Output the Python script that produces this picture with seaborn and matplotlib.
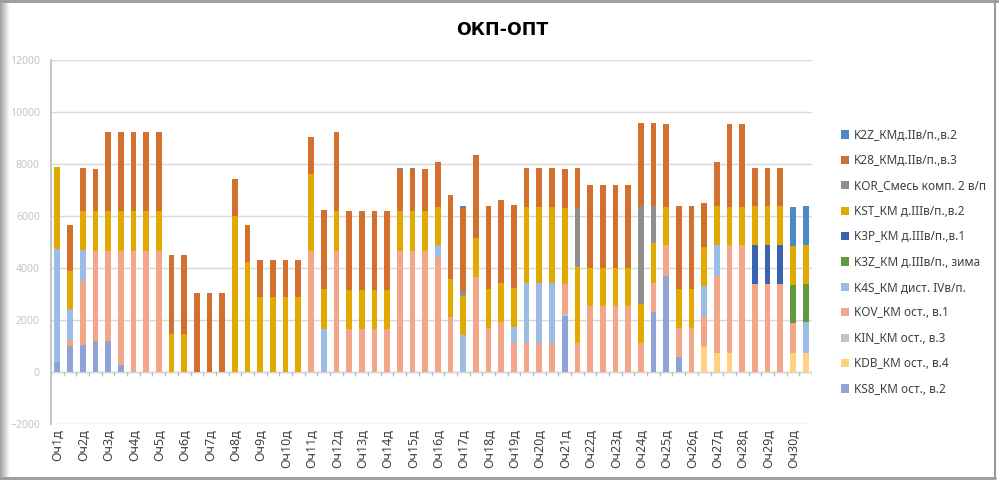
import numpy as np
import pandas as pd
import matplotlib
matplotlib.use("Agg")
import matplotlib.pyplot as plt
from matplotlib.patches import Patch
from matplotlib.lines import Line2D
import seaborn as sns

# --- data: one list per series, 60 bars (segment heights) ---
n_bars = 60
day_labels = [f"Оч{d}д" for d in range(1, 31)]

ks8 = [400, 1000, 1040, 1200, 1200, 270, 0, 0, 0, 0,
       0, 0, 0, 0, 0, 0, 0, 0, 0, 0,
       0, 0, 0, 0, 0, 0, 0, 0, 0, 0,
       0, 0, 0, 0, 0, 0, 0, 0, 0, 0,
       2150, 0, 0, 0, 0, 0, 0, 2310, 3690, 560,
       0, 0, 0, 0, 0, 0, 0, 0, 0, 0]
kdb = [0] * 51 + [960, 730, 730, 0, 0, 0, 0, 730, 730]
kin = [0] * 40 + [80] + [0] * 19
kov = [0, 230, 2470, 3470, 3470, 4400, 4670, 4670, 4670, 0,
       0, 0, 0, 0, 0, 0, 0, 0, 0, 0,
       4670, 0, 4670, 1670, 1670, 1670, 1670, 4670, 4670, 4670,
       4420, 2120, 0, 3670, 1690, 1940, 1100, 1100, 1100, 1100,
       1170, 1100, 2530, 2530, 2530, 2530, 1100, 1130, 1180, 1130,
       1690, 1180, 2970, 4140, 4870, 3370, 3370, 3370, 1140, 0]
k4s = [4320, 1180, 1180, 0, 0, 0, 0, 0, 0, 0,
       0, 0, 0, 0, 0, 0, 0, 0, 0, 0,
       0, 1670, 0, 0, 0, 0, 0, 0, 0, 0,
       450, 0, 1410, 0, 0, 0, 640, 2310, 2310, 2310,
       0, 0, 0, 0, 0, 0, 0, 0, 0, 0,
       0, 1180, 1170, 0, 0, 0, 0, 0, 0, 1180]
k3z = [0] * 58 + [1460, 1470]
k3p = [0] * 55 + [1500, 1500, 1500, 0, 0]
kst = [3180, 1470, 1490, 1510, 1510, 1510, 1510, 1510, 1510, 1460,
       1460, 0, 0, 0, 6000, 4230, 2870, 2870, 2870, 2870,
       2930, 1510, 1510, 1490, 1490, 1490, 1490, 1510, 1510, 1510,
       1490, 1470, 1510, 1490, 1510, 1490, 1510, 2940, 2940, 2940,
       2920, 2940, 1470, 1470, 1470, 1470, 1510, 1510, 1470, 1510,
       1510, 1490, 1500, 1480, 1480, 1500, 1500, 1500, 1510, 1490]
kor = [0] * 32 + [180] + [0] * 8 + [2310, 0, 0, 0, 0, 3770, 1440] + [0] * 12
k28 = [0, 1760, 1670, 1630, 3050, 3050, 3050, 3050, 3050, 3040,
       3040, 3030, 3030, 3030, 1440, 1440, 1440, 1440, 1440, 1440,
       1420, 3050, 3050, 3050, 3050, 3050, 3050, 1630, 1630, 1620,
       1720, 3200, 3200, 3200, 3170, 3190, 3170, 1490, 1490, 1490,
       1480, 1490, 3200, 3200, 3200, 3200, 3180, 3180, 3190, 3170,
       3170, 1690, 1710, 3190, 3190, 1490, 1490, 1490, 0, 0]
k2z = [0] * 27 + [40, 40, 0, 0, 0, 100] + [0] * 25 + [1510, 1520]

# legend order (top of stack first)
series_names = ["K2Z_КМд.IIв/п.,в.2", "K28_КМд.IIв/п.,в.3", "KOR_Смесь комп. 2 в/п",
                "KST_КМ д.IIIв/п.,в.2", "K3P_КМ д.IIIв/п.,в.1", "K3Z_КМ д.IIIв/п., зима",
                "K4S_КМ дист. IVв/п.", "KOV_КМ ост., в.1", "KIN_КМ ост., в.3",
                "KDB_КМ ост., в.4", "KS8_КМ ост., в.2"]
series_values = [k2z, k28, kor, kst, k3p, k3z, k4s, kov, kin, kdb, ks8]
series_colors = ["#4A8AC6", "#D4702E", "#8F8F8F", "#E2AA00", "#3A62AE", "#5F9A3C",
                 "#9BBDE3", "#F2A68A", "#C3C3C3", "#FFD27F", "#8FA3D6"]

wide = pd.DataFrame(dict(zip(series_names, series_values)))
wide["bar"] = np.arange(n_bars)
long = wide.melt(id_vars="bar", var_name="series", value_name="value")
long = long[long["value"] > 0]

# --- plot ---
sns.set_theme(style="white")
plt.rcParams["font.family"] = ["Noto Sans", "DejaVu Sans"]

fig = plt.figure(figsize=(9.99, 4.8), dpi=100)
ax = fig.add_axes([51 / 999, 56 / 480, 761 / 999, 364 / 480])

sns.histplot(data=long, x="bar", hue="series", weights="value",
             multiple="stack", discrete=True, shrink=0.45,
             hue_order=series_names, palette=dict(zip(series_names, series_colors)),
             alpha=1, linewidth=0, legend=False, ax=ax)

ax.set_xlim(-0.5, n_bars - 0.5)
ax.set_ylim(-2000, 12000)
ax.set_yticks(np.arange(-2000, 12001, 2000))
ax.yaxis.grid(True, color="#d9d9d9", lw=1)
ax.set_axisbelow(True)
for side in ["top", "right", "bottom"]:
    ax.spines[side].set_visible(False)
ax.spines["left"].set_color("#bfbfbf")
ax.set_xlabel("")
ax.set_ylabel("")

# category axis at zero with tick marks between bars
ax.axhline(0, color="#bfbfbf", lw=1, zorder=0.5)
ax.vlines(np.arange(-0.5, n_bars, 1), -170, 0, color="#bfbfbf", lw=1)

ax.set_xticks(np.arange(0, n_bars, 2))
ax.set_xticklabels(day_labels, rotation=90, fontsize=9, color="#404040")
ax.tick_params(axis="x", length=0, pad=4)
ax.tick_params(axis="y", length=0, pad=8, labelsize=7.5, labelcolor="#c4c4c4")

fig.text(0.503, 1 - 30 / 480, "ОКП-ОПТ", ha="center", va="center",
         fontsize=12.5, fontweight="bold", family="DejaVu Sans", color="black")

handles = [Patch(facecolor=c, edgecolor="none") for c in series_colors]
fig.legend(handles, series_names, loc="upper left", bbox_to_anchor=(830 / 999, 1 - 118 / 480),
           frameon=False, fontsize=8.5, handlelength=0.7, handleheight=0.7,
           handletextpad=0.4, labelspacing=1.05, labelcolor="#404040")

# chart frame and left shadow
shadow = fig.add_axes([0, 0, 10 / 999, 1])
shadow.imshow(np.linspace(0.62, 1.0, 50)[None, :], cmap="gray", vmin=0, vmax=1,
              aspect="auto")
shadow.axis("off")
fig.add_artist(Line2D([0, 1], [0.998, 0.998], color="#9a9a9a", lw=2))
fig.add_artist(Line2D([0, 995 / 999], [1 - 478 / 480] * 2, color="#9a9a9a", lw=2))
fig.add_artist(Line2D([995 / 999] * 2, [1 - 478 / 480, 1], color="#9a9a9a", lw=1.5))

fig.savefig("out.png", dpi=100)
